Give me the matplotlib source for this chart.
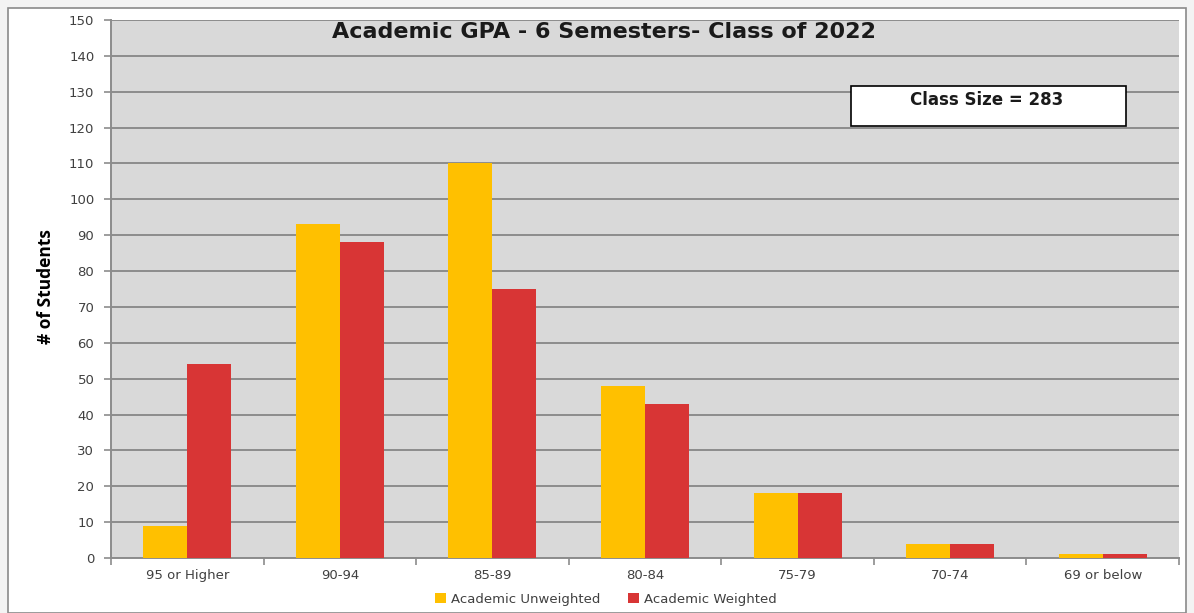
import matplotlib
matplotlib.use("Agg")
import matplotlib.pyplot as plt
from matplotlib.patches import Rectangle
import numpy as np

categories = ["95 or Higher", "90-94", "85-89", "80-84", "75-79", "70-74", "69 or below"]
unweighted = [9, 93, 110, 48, 18, 4, 1]
weighted = [54, 88, 75, 43, 18, 4, 1]
series_names = ["Academic Unweighted", "Academic Weighted"]
title = "Academic GPA - 6 Semesters- Class of 2022"
note = "Class Size = 283"
y_ticks = list(range(0, 151, 10))

plt.rcParams['font.family'] = ['DejaVu Sans']

W, H = 1194, 613
fig = plt.figure(figsize=(W / 100, H / 100), dpi=100, facecolor='#f3f3f3')
# outer chart border
fig.patches.append(Rectangle((8 / W, 0), (1186 - 8) / W, (H - 8) / H, transform=fig.transFigure,
                             facecolor='white', edgecolor='#8a8a8a', linewidth=1.2, zorder=-5))

ax = fig.add_axes([111 / W, (H - 558) / H, (1179 - 111) / W, (558 - 20) / H])
ax.set_facecolor('#d9d9d9')

x = np.arange(len(categories))
bw = 0.288
ax.bar(x - bw / 2, unweighted, bw, color='#ffc000', label=series_names[0], zorder=3)
ax.bar(x + bw / 2, weighted, bw, color='#d83535', label=series_names[1], zorder=3)

ax.set_xlim(-0.5, len(categories) - 0.5)
ax.set_ylim(0, 150)
ax.set_yticks(y_ticks)
ax.yaxis.grid(True, color='#8c8c8c', linewidth=1.4, zorder=1)
ax.set_axisbelow(True)

ax.set_xticks(x)
ax.set_xticklabels(categories, fontsize=9.5, color='#404040')
ax.set_xticks(np.arange(-0.5, len(categories)), minor=True)
ax.tick_params(axis='x', which='major', length=0, pad=8)
ax.tick_params(axis='x', which='minor', length=5, color='#8c8c8c', width=1.2)
ax.tick_params(axis='y', length=5, color='#8c8c8c', width=1.2, labelsize=9.5, labelcolor='#404040', pad=7)

for s in ['top', 'right']:
    ax.spines[s].set_visible(False)
ax.spines['left'].set_color('#8c8c8c')
ax.spines['left'].set_linewidth(1.4)
ax.spines['bottom'].set_color('#8c8c8c')
ax.spines['bottom'].set_linewidth(1.4)

fig.text(46 / W, (H - 287) / H, "# of Students", rotation=90, ha='center', va='center',
         fontsize=12.5, fontweight='bold', color='black',
         family=['Open Sans', 'DejaVu Sans'])

ax.text((604 - 111) / (1179 - 111), (558 - 32) / (558 - 20), title, transform=ax.transAxes,
        ha='center', va='center', fontsize=16, fontweight='bold', color='#1a1a1a')

# class size box
bx0, bx1 = (851 - 111) / (1179 - 111), (1126 - 111) / (1179 - 111)
by0, by1 = (558 - 126) / (558 - 20), (558 - 86) / (558 - 20)
ax.add_patch(Rectangle((bx0, by0), bx1 - bx0, by1 - by0, transform=ax.transAxes,
                       facecolor='white', edgecolor='black', linewidth=1.2, zorder=5))
ax.text((987 - 111) / (1179 - 111), (558 - 100) / (558 - 20), note, transform=ax.transAxes,
        ha='center', va='center', fontsize=12, fontweight='bold', color='#1a1a1a', zorder=6)

fig.legend(loc='center', bbox_to_anchor=(606 / W, (H - 599) / H), ncol=2, frameon=False,
           fontsize=9.5, handlelength=0.83, handleheight=0.83, columnspacing=2.1, handletextpad=0.38,
           labelcolor='#404040')

fig.savefig("out.png", dpi=100, facecolor=fig.get_facecolor())
